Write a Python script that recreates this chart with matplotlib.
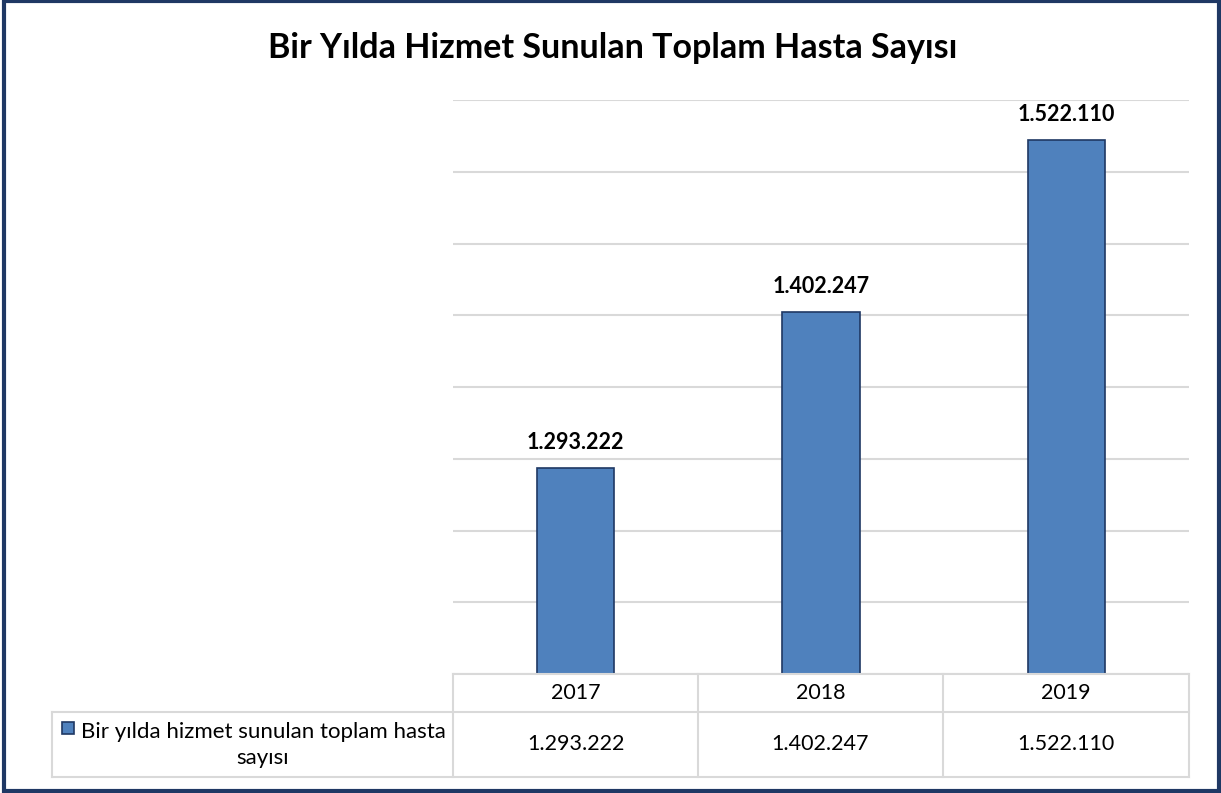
import matplotlib.pyplot as plt
from matplotlib.patches import Rectangle
from matplotlib.lines import Line2D

plt.rcParams['font.family'] = ['Lato', 'DejaVu Sans']

# veriler
years = ['2017', '2018', '2019']
patients = [1293222, 1402247, 1522110]
series_name = 'Bir yılda hizmet sunulan toplam hasta\nsayısı'
title = 'Bir Yılda Hizmet Sunulan Toplam Hasta Sayısı'


def tr_format(v):
    return f'{v:,}'.replace(',', '.')


W, H = 1221, 793
fig = plt.figure(figsize=(W / 100, H / 100), dpi=100)


def fx(px):
    return px / W


def fy(py):
    return 1 - py / H


bar_color = '#4F81BD'
edge_color = '#1F3864'
grid_color = '#D9D9D9'

# grafik alanı
ax = fig.add_axes([fx(453), fy(674), fx(1189) - fx(453), fy(100) - fy(674)])
x = range(len(years))
bars = ax.bar(x, patients, width=0.315, color=bar_color, edgecolor=edge_color, linewidth=1.2, zorder=3)
ax.set_xlim(-0.5, len(years) - 0.5)
ax.set_ylim(1150000, 1550000)
ax.set_yticks(range(1150000, 1550001, 50000))
ax.yaxis.grid(True, color=grid_color, linewidth=1.5)
ax.set_xticks([])
ax.tick_params(left=False, labelleft=False)
for s in ax.spines.values():
    s.set_visible(False)

for b, v in zip(bars, patients):
    ax.annotate(tr_format(v), (b.get_x() + b.get_width() / 2, v), xytext=(0, 11),
                textcoords='offset points', ha='center', va='bottom',
                fontsize=15.5, fontweight='bold', color='black')

# başlık
fig.text(fx(613), fy(48), title, ha='center', va='center', fontsize=24.5, fontweight='bold')

# veri tablosu
col_edges = [453, 698, 943, 1189]
row_top, row_mid, row_bot = 674, 712, 777
left_edge = 52


def hline(y, x0, x1):
    fig.add_artist(Line2D([fx(x0), fx(x1)], [fy(y), fy(y)], color=grid_color, linewidth=1.5))


def vline(xp, y0, y1):
    fig.add_artist(Line2D([fx(xp), fx(xp)], [fy(y0), fy(y1)], color=grid_color, linewidth=1.5))


hline(row_top, col_edges[0], col_edges[-1])
hline(row_mid, left_edge, col_edges[-1])
hline(row_bot, left_edge, col_edges[-1])
vline(left_edge, row_mid, row_bot)
for c in col_edges:
    vline(c, row_top, row_bot)

for i, (yr, v) in enumerate(zip(years, patients)):
    cx = (col_edges[i] + col_edges[i + 1]) / 2
    fig.text(fx(cx), fy((row_top + row_mid) / 2), yr, ha='center', va='center', fontsize=15.5)
    fig.text(fx(cx), fy((row_mid + row_bot) / 2), tr_format(v), ha='center', va='center', fontsize=15.5)

# seri anahtarı
fig.add_artist(Rectangle((fx(62), fy(734)), fx(12), fy(722) - fy(734), facecolor=bar_color,
                         edgecolor=edge_color, linewidth=1.2))
fig.text(fx(263), fy(745), series_name, ha='center', va='center', fontsize=16,
         multialignment='center', linespacing=1.35)

# çerçeve
fig.add_artist(Rectangle((fx(4), fy(791)), fx(1215), fy(1) - fy(791), fill=False,
                         edgecolor=edge_color, linewidth=3))

fig.savefig('out.png', dpi=100)
